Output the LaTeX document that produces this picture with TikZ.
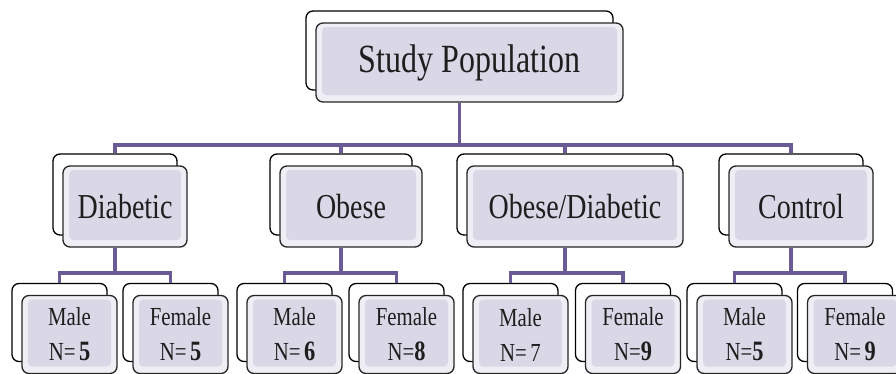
\documentclass[tikz,border=0pt]{standalone}
\usepackage{fontspec}
\usepackage{graphicx}
\setmainfont{Liberation Serif}
\newcommand\cnd[1]{\scalebox{0.8}[1]{#1}}
\newcommand\nb[1]{{\fontsize{28}{35}\selectfont\textbf{#1}}}
\definecolor{connc}{HTML}{6B5B95}
\definecolor{rimc}{HTML}{EFEEF4}
\definecolor{facec}{HTML}{DAD8E6}
\definecolor{inkc}{HTML}{1E1E1E}
\tikzset{
  sz/.style 2 args={minimum width=#1pt, minimum height=#2pt},
  backbox/.style={draw=black, line width=1.3pt, fill=white, rounded corners=7pt, inner sep=0pt},
  frontbox/.style={draw=black!85, line width=1.3pt, fill=rimc, rounded corners=7pt, inner sep=0pt,
    text=inkc, align=center,
    path picture={\fill[facec, rounded corners=4pt]
      ([shift={(6pt,-4pt)}]path picture bounding box.north west) rectangle
      ([shift={(-6pt,7pt)}]path picture bounding box.south east);}},
  topfont/.style={font=\fontsize{40}{44}\selectfont},
  midfont/.style={font=\fontsize{35}{40}\selectfont},
  leaffont/.style={font=\fontsize{26}{35}\selectfont},
  connline/.style={draw=connc, line width=3.5pt},
}
\begin{document}
\begin{tikzpicture}[x=1pt,y=-1pt]
\clip (0,0) rectangle (896,373);
\fill[white] (0,0) rectangle (896,373);

\coordinate (bus) at (0,145);
\coordinate (sub) at (0,273);

% back boxes
\node[backbox, sz={307}{79}] (topB) at (459.5,50.5) {};
\node[backbox, sz={124}{81}] (dB) at (115,194.5) {};
\node[backbox, sz={142}{81}] (oB) at (341,194.5) {};
\node[backbox, sz={216}{81}] (odB) at (565,194.5) {};
\node[backbox, sz={144}{81}] (cB) at (791,194.5) {};
\node[backbox, sz={95}{78}] (dmB) at (59.5,322.5) {};
\node[backbox, sz={95}{78}] (dfB) at (170.5,322.5) {};
\node[backbox, sz={95}{78}] (omB) at (284.5,322.5) {};
\node[backbox, sz={95}{78}] (ofB) at (396.5,322.5) {};
\node[backbox, sz={95}{78}] (odmB) at (510.5,322.5) {};
\node[backbox, sz={95}{78}] (odfB) at (623,322.5) {};
\node[backbox, sz={95}{78}] (cmB) at (734.5,322.5) {};
\node[backbox, sz={95}{78}] (cfB) at (845,322.5) {};

% front boxes
\node[frontbox, topfont, sz={307}{79}] (topF) at (469.5,62.5) {\cnd{Study Population}};
\node[frontbox, midfont, sz={124}{81}] (dF) at (125,206.5) {\cnd{Diabetic}};
\node[frontbox, midfont, sz={142}{81}] (oF) at (351,206.5) {\cnd{Obese}};
\node[frontbox, midfont, sz={216}{81}] (odF) at (575,206.5) {\cnd{Obese/Diabetic}};
\node[frontbox, midfont, sz={144}{81}] (cF) at (801,206.5) {\cnd{Control}};
\node[frontbox, leaffont, sz={95}{78}] (dmF) at (69.5,334.5) {\cnd{Male}\\\cnd{N=\,\nb{5}}};
\node[frontbox, leaffont, sz={95}{78}] (dfF) at (180.5,334.5) {\cnd{Female}\\\cnd{N=\,\nb{5}}};
\node[frontbox, leaffont, sz={95}{78}] (omF) at (294.5,334.5) {\cnd{Male}\\\cnd{N=\,\nb{6}}};
\node[frontbox, leaffont, sz={95}{78}] (ofF) at (406.5,334.5) {\cnd{Female}\\\cnd{N=\nb{8}}};
\node[frontbox, leaffont, sz={95}{78}] (odmF) at (520.5,334.5) {\cnd{Male}\\\cnd{N=\,7}};
\node[frontbox, leaffont, sz={95}{78}] (odfF) at (633,334.5) {\cnd{Female}\\\cnd{N=\nb{9}}};
\node[frontbox, leaffont, sz={95}{78}] (cmF) at (744.5,334.5) {\cnd{Male}\\\cnd{N=\nb{5}}};
\node[frontbox, leaffont, sz={95}{78}] (cfF) at (855,334.5) {\cnd{Female}\\\cnd{N=\,\nb{9}}};

% connectors
\draw[connline] (topF.south -| topB.center) -- (bus -| topB.center);
\draw[connline, line cap=rect] (bus -| dB.center) -- (bus -| cB.center);
\foreach \n in {dB,oB,odB,cB} \draw[connline] (bus -| \n.center) -- (\n.north);
\foreach \p/\a/\b in {d/dm/df, o/om/of, od/odm/odf, c/cm/cf} {
  \draw[connline] (\p F.south -| \p B.center) -- (sub -| \p B.center);
  \draw[connline, line cap=rect] (sub -| \a B.center) -- (sub -| \b B.center);
  \draw[connline] (sub -| \a B.center) -- (\a B.north);
  \draw[connline] (sub -| \b B.center) -- (\b B.north);
}
\end{tikzpicture}
\end{document}
